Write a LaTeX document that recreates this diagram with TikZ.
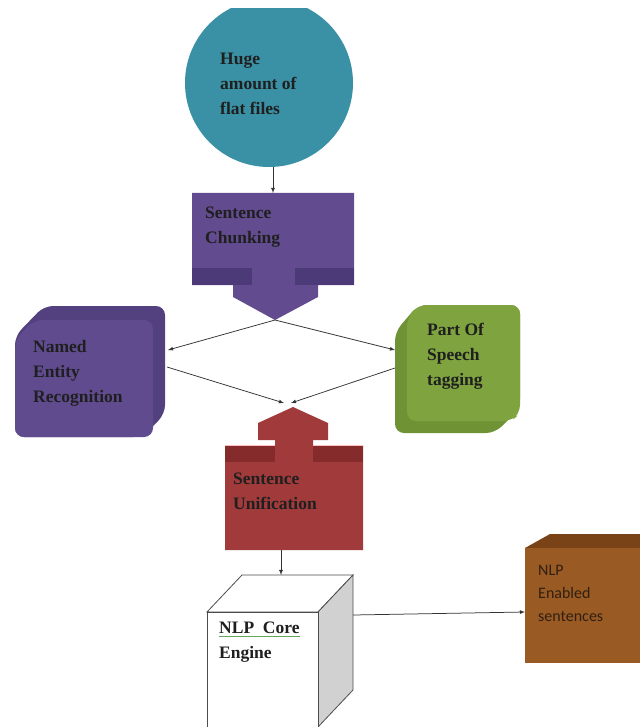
\documentclass[tikz,border=0pt]{standalone}
\usepackage{fontspec}
\setmainfont{Liberation Serif}
\newfontfamily\cardsans{Carlito}
\usepackage{xcolor}
\usetikzlibrary{arrows, positioning}

\definecolor{srcteal}{HTML}{3A90A4}
\definecolor{chunkpurple}{HTML}{624B8E}
\definecolor{chunkdark}{HTML}{4C3978}
\definecolor{nerpurple}{HTML}{604B8F}
\definecolor{nerdark}{HTML}{52407F}
\definecolor{posgreen}{HTML}{7EA33F}
\definecolor{posdark}{HTML}{6F9235}
\definecolor{unired}{HTML}{A13A3A}
\definecolor{unidark}{HTML}{862B2C}
\definecolor{outbrown}{HTML}{9A5A24}
\definecolor{outdark}{HTML}{7A4317}
\definecolor{spellgreen}{HTML}{5FA85A}

\tikzset{
  lbl/.style={anchor=north west, align=left, inner sep=0pt, text=black!88,
    font=\bfseries\fontsize{17.5}{25}\selectfont},
  link/.style={-latex, black!80, line width=0.75pt}
}

\begin{document}
\begin{tikzpicture}[x=1pt, y=-1pt]
\useasboundingbox (0,0) rectangle (639,727);
% source of flat files
\begin{scope}
\clip (150,9) rectangle (400,200);
\fill[srcteal] (269,83) circle (84pt);
\end{scope}
\node[lbl] (huge) at (220,53) {Huge\\amount of\\flat files};
\coordinate (hugeout) at (273,167);
% sentence chunking, down arrow callout
\fill[chunkpurple] (192,193) -- (354,193) -- (354,285) -- (318,285) -- (318,297) -- (275,320)
  -- (233,297) -- (233,285) -- (192,285) -- cycle;
\fill[chunkdark] (192,268) rectangle (252,285); \fill[chunkdark] (295,268) rectangle (354,285);
\node[lbl] (chunk) at (205,207) {Sentence\\Chunking};
\coordinate (chunkin) at (273,193); \coordinate (chunktip) at (275,320);
% named entity recognition
\fill[nerdark, rounded corners=9pt] (15,336) -- (44,306) -- (165,306) -- (165,414) -- (142,437)
  -- (15,437) -- cycle;
\fill[nerpurple, rounded corners=9pt] (15,340) -- (34,320) -- (153,320) -- (153,437) -- (15,437) -- cycle;
\node[lbl] (ner) at (33,340) {Named\\Entity\\Recognition};
\coordinate (nerin) at (168,350); \coordinate (nerout) at (167,367);
% part of speech tagging
\fill[posdark, rounded corners=9pt] (395,332) -- (418,305) -- (520,305) -- (520,408) -- (495,433)
  -- (395,433) -- cycle;
\fill[posgreen, rounded corners=9pt] (407,318) -- (418,305) -- (520,305) -- (520,414) -- (511,421)
  -- (407,421) -- cycle;
\node[lbl] (pos) at (427,323) {Part Of\\Speech\\tagging};
\coordinate (posin) at (395,350); \coordinate (posout) at (395,368);
% sentence unification, up arrow callout
\fill[unired] (293,407) -- (328,423) -- (328,440) -- (313,440) -- (313,445) -- (363,445) -- (363,550)
  -- (225,550) -- (225,445) -- (275,445) -- (275,440) -- (258,440) -- (258,423) -- cycle;
\fill[unidark] (225,445) rectangle (275,462); \fill[unidark] (313,445) rectangle (363,462);
\draw[red!25, line width=1pt] (225,445) -- (275,445) (313,445) -- (363,445);
\node[lbl] (unify) at (233,473) {Sentence\\Unification};
\coordinate (unileft) at (284,403); \coordinate (uniright) at (291,403);
\coordinate (uniout) at (281,550);
% nlp core engine cube
\filldraw[fill=white, draw=black!70, line width=0.8pt] (207,612) -- (242,575) -- (353,575) -- (318,612) -- cycle;
\filldraw[fill=black!18, draw=black!70, line width=0.8pt] (318,612) -- (353,575) -- (353,690) -- (318,727) -- cycle;
\filldraw[fill=white, draw=black!70, line width=0.8pt] (207,612) rectangle (318,727);
\node[lbl] (core) at (219,622) {NLP\ \ Core};
\node[lbl, below=12pt of core.south west, anchor=north west] (engine) {Engine};
\draw[spellgreen, line width=0.8pt] ([yshift=-2pt]core.south west) -- ([yshift=-2pt]core.south east);
\coordinate (corein) at (281,575); \coordinate (coreout) at (353,615);
% nlp enabled sentences
\fill[outdark] (525,548) -- (550,534) -- (650,534) -- (645,548) -- cycle;
\fill[outbrown] (525,548) rectangle (645,663);
\node[lbl, font=\cardsans\fontsize{16}{23}\selectfont, text=black!75!brown] (out) at (538,565) {NLP\\Enabled\\sentences};
\coordinate (outin) at (525,612);
% connectors
\draw[link] (hugeout) -- (chunkin);
\draw[link] (chunktip) -- (nerin);
\draw[link] (chunktip) -- (posin);
\draw[link] (nerout) -- (unileft);
\draw[link] (posout) -- (uniright);
\draw[link] (uniout) -- (corein);
\draw[link] (coreout) -- (outin);
\end{tikzpicture}
\end{document}
